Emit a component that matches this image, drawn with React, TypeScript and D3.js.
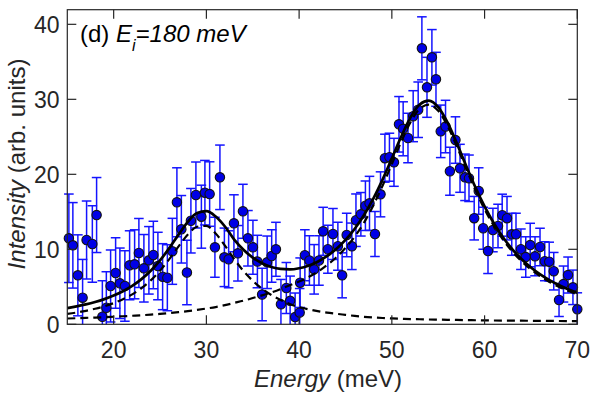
import React from 'react';
import * as d3 from 'd3';

const energy = [
  15.17, 15.6, 16.14, 16.65, 17.08, 17.7, 18.16, 18.78, 19.21, 19.67,
  20.21, 20.67, 21.21, 21.72, 22.26, 22.72, 23.26, 23.8, 24.28, 24.77,
  25.28, 25.79, 26.33, 26.82, 27.3, 27.9, 28.33, 28.87, 29.46, 29.84,
  30.35, 30.92, 31.46, 31.94, 32.4, 32.97, 33.4, 33.94, 34.48, 35.02,
  35.5, 36.01, 36.55, 37.04, 37.5, 38.04, 38.62, 39.03, 39.57, 40.06,
  40.11, 40.62, 41.11, 41.62, 42.14, 42.59, 43.1, 43.65, 44.18, 44.64,
  45.13, 45.69, 46.13, 46.66, 47.15, 47.59, 48.18, 48.78, 49.25, 49.74,
  50.23, 50.77, 51.22, 51.74, 52.3, 52.84, 53.24, 53.79, 54.32, 54.76,
  55.27, 55.79, 56.26, 56.86, 57.35, 57.89, 58.32, 58.88, 59.37, 59.85,
  60.37, 60.9, 61.45, 61.9, 62.42, 62.93, 63.39, 63.92, 64.44, 64.92,
  65.44, 65.98, 66.49, 66.97, 67.46, 68.03, 68.51, 69.0, 69.53, 70.0,
];

const intensity = [
  11.47, 10.53, 6.53, 3.55, 11.24, 10.71, 14.57, 1.01, 2.21, 5.11,
  6.84, 5.47, 5.11, 7.87, 8.0, 9.51, 7.47, 8.53, 9.24, 7.77,
  6.35, 6.21, 9.73, 16.27, 12.67, 6.91, 13.81, 17.24, 14.35, 17.55,
  17.37, 10.27, 19.6, 8.93, 8.67, 13.47, 9.47, 15.07, 11.47, 10.27,
  8.37, 3.97, 8.27, 9.11, 10.0, 2.68, 4.84, 3.13, 0.97, 1.57,
  5.55, 9.21, 8.51, 7.33, 8.51, 12.4, 10.01, 12.04, 10.41, 6.53,
  11.91, 10.4, 13.88, 14.67, 15.81, 16.13, 12.04, 17.33, 22.15, 22.28,
  21.6, 26.67, 26.07, 24.84, 27.75, 28.61, 36.8, 31.6, 35.6, 32.67,
  25.73, 26.37, 20.41, 24.57, 20.8, 19.6, 19.47, 14.15, 17.77, 12.81,
  9.77, 12.57, 13.11, 14.55, 14.15, 12.0, 12.01, 10.01, 8.97, 10.57,
  9.07, 10.31, 8.41, 8.35, 7.08, 3.24, 5.37, 6.57, 4.93, 2.0,
];

const errorBar = [
  5.9, 5.7, 5.4, 5.1, 5.2, 5.1, 5.0, 4.8, 4.8, 4.8,
  4.7, 4.7, 4.7, 4.6, 4.6, 4.6, 4.5, 4.5, 4.5, 4.5,
  4.4, 4.4, 4.4, 4.6, 4.5, 4.3, 4.3, 4.4, 4.2, 4.3,
  4.3, 4.0, 4.3, 3.9, 3.8, 3.8, 3.7, 3.6, 3.7, 3.6,
  3.5, 3.5, 3.5, 3.5, 3.6, 3.3, 3.4, 3.3, 3.2, 3.2,
  3.3, 3.4, 3.3, 3.3, 3.3, 3.2, 3.2, 3.4, 3.2, 3.0,
  2.9, 3.1, 3.5, 2.9, 3.3, 3.6, 3.0, 3.0, 3.2, 3.2,
  3.2, 3.7, 3.6, 3.3, 3.4, 3.7, 4.2, 4.0, 3.7, 3.6,
  3.5, 3.5, 3.2, 3.1, 3.2, 3.1, 3.1, 2.9, 3.1, 2.8,
  3.0, 2.9, 2.9, 2.8, 2.9, 2.8, 2.8, 2.7, 2.7, 2.9,
  2.6, 2.5, 2.6, 2.6, 2.5, 2.2, 2.4, 2.4, 2.3, 2.2,
];

const fitEnergy = [
  15, 16, 17, 18, 19, 20, 21, 22, 23, 24,
  25, 26, 27, 28, 29, 30, 31, 32, 33, 34,
  35, 36, 37, 38, 39, 40, 41, 42, 43, 44,
  45, 46, 47, 48, 49, 50, 51, 52, 53, 54,
  55, 56, 57, 58, 59, 60, 61, 62, 63, 64,
  65, 66, 67, 68, 69, 70,
];

const fitTotal = [
  2.16, 2.39, 2.65, 2.97, 3.36, 3.83, 4.4, 5.12, 6.02, 7.14,
  8.52, 10.16, 11.96, 13.66, 14.83, 15.08, 14.37, 13.04, 11.3, 9.95,
  8.9, 8.15, 7.65, 7.38, 7.32, 7.48, 7.82, 8.35, 9.08, 10.04,
  11.25, 12.74, 14.57, 16.76, 19.3, 22.12, 25.0, 27.56, 29.31, 29.83,
  28.95, 26.91, 24.16, 21.18, 18.3, 15.71, 13.47, 11.58, 9.99, 8.67,
  7.57, 6.65, 5.88, 5.23, 4.68, 4.2,
];

const fitPeak1 = [
  1.39, 1.57, 1.8, 2.07, 2.4, 2.82, 3.34, 3.99, 4.81, 5.86,
  7.15, 8.69, 10.39, 11.97, 13.01, 13.12, 12.1, 10.5, 8.7, 7.1,
  5.8, 4.75, 3.9, 3.25, 2.7, 2.3, 2.0, 1.75, 1.55, 1.4,
  1.26, 1.12, 1.0, 0.91, 0.84, 0.78, 0.74, 0.7, 0.67, 0.64,
  0.62, 0.6, 0.58, 0.56, 0.54, 0.52, 0.51, 0.5, 0.49, 0.48,
  0.47, 0.46, 0.45, 0.44, 0.43, 0.42,
];

const fitPeak2 = [
  0.77, 0.81, 0.86, 0.9, 0.95, 1.01, 1.07, 1.14, 1.21, 1.29,
  1.39, 1.5, 1.62, 1.76, 1.92, 2.1, 2.3, 2.55, 2.85, 3.15,
  3.5, 3.85, 4.25, 4.7, 5.2, 5.7, 6.3, 7.0, 7.9, 8.9,
  10.2, 11.7, 13.56, 15.85, 18.48, 21.38, 24.31, 26.93, 28.73, 29.29,
  28.46, 26.46, 23.74, 20.78, 17.93, 15.36, 13.14, 11.27, 9.7, 8.4,
  7.32, 6.41, 5.65, 5.01, 4.47, 4.0,
];

const xTicks = [20, 30, 40, 50, 60, 70];
const yTicks = [0, 10, 20, 30, 40];

const FONT = '"Liberation Sans", Arial, Helvetica, sans-serif';

export default function App() {
  const W = 595;
  const H = 395;
  const left = 67.3;
  const right = 577.3;
  const top = 9.7;
  const bottom = 324.3;
  const tickLen = 9;

  const x = d3.scaleLinear().domain([15, 70]).range([left, right]);
  const y = d3.scaleLinear().domain([0, 41.95]).range([bottom, top]);

  const line = (vals: number[]) =>
    d3
      .line<number>()
      .x((_, i) => x(fitEnergy[i]))
      .y((d) => y(d))
      .curve(d3.curveMonotoneX)(vals) || '';

  const capHalf = 4.8;
  const blue = '#1414ff';

  return (
    <svg
      width={W}
      height={H}
      style={{ position: 'absolute', left: 0, top: 0, background: '#fff' }}
      fontFamily={FONT}
    >
      <rect x={0} y={0} width={W} height={H} fill="#fff" />
      {/* error bars */}
      <g stroke={blue} strokeWidth={1.5} fill="none">
        {energy.map((e, i) => {
          const cx = x(e);
          const y1 = y(intensity[i] + errorBar[i]);
          const y0 = y(Math.max(intensity[i] - errorBar[i], 0));
          const lowOk = intensity[i] - errorBar[i] >= 0;
          return (
            <g key={i}>
              <line x1={cx} x2={cx} y1={y1} y2={y0} />
              <line x1={cx - capHalf} x2={cx + capHalf} y1={y1} y2={y1} />
              {lowOk && <line x1={cx - capHalf} x2={cx + capHalf} y1={y0} y2={y0} />}
            </g>
          );
        })}
      </g>
      {/* markers */}
      <g fill="#0000e6" stroke="#111" strokeWidth={1.1}>
        {energy.map((e, i) => (
          <circle key={i} cx={x(e)} cy={y(intensity[i])} r={4.7} />
        ))}
      </g>
      {/* fit curves */}
      <path d={line(fitPeak1)} fill="none" stroke="#000" strokeWidth={2.2} strokeDasharray="8,5" />
      <path d={line(fitPeak2)} fill="none" stroke="#000" strokeWidth={2.2} strokeDasharray="8,5" />
      <path d={line(fitTotal)} fill="none" stroke="#000" strokeWidth={2.7} />

      {/* frame */}
      <rect x={left} y={top} width={right - left} height={bottom - top} fill="none" stroke="#262626" strokeWidth={1.2} />
      {/* ticks */}
      <g stroke="#262626" strokeWidth={1.2}>
        {xTicks.map((t) => (
          <g key={'x' + t}>
            <line x1={x(t)} x2={x(t)} y1={bottom} y2={bottom - tickLen} />
            <line x1={x(t)} x2={x(t)} y1={top} y2={top + tickLen} />
          </g>
        ))}
        {yTicks.map((t) => (
          <g key={'y' + t}>
            <line x1={left} x2={left + tickLen} y1={y(t)} y2={y(t)} />
            <line x1={right} x2={right - tickLen} y1={y(t)} y2={y(t)} />
          </g>
        ))}
      </g>
      {/* tick labels */}
      <g fill="#262626" fontSize={23}>
        {xTicks.map((t) => (
          <text key={'xl' + t} x={x(t)} y={358} textAnchor="middle">
            {t}
          </text>
        ))}
        {yTicks.map((t) => (
          <text key={'yl' + t} x={59.5} y={y(t) + 8.2} textAnchor="end">
            {t}
          </text>
        ))}
      </g>
      {/* axis labels */}
      <text x={328} y={387} textAnchor="middle" fontSize={24} fill="#262626">
        <tspan fontStyle="italic">Energy</tspan>
        <tspan> (meV)</tspan>
      </text>
      <text
        transform="translate(25,164) rotate(-90)"
        textAnchor="middle"
        fontSize={24}
        fill="#262626"
      >
        <tspan fontStyle="italic">Intensity</tspan>
        <tspan> (arb. units)</tspan>
      </text>
      {/* panel annotation */}
      <text x={80} y={42} fontSize={24} fill="#000">
        <tspan>(d) </tspan>
        <tspan fontStyle="italic">E</tspan>
        <tspan fontStyle="italic" fontSize={16} dy={9}>i</tspan>
        <tspan fontStyle="italic" dy={-9}>=180 meV</tspan>
      </text>
    </svg>
  );
}
